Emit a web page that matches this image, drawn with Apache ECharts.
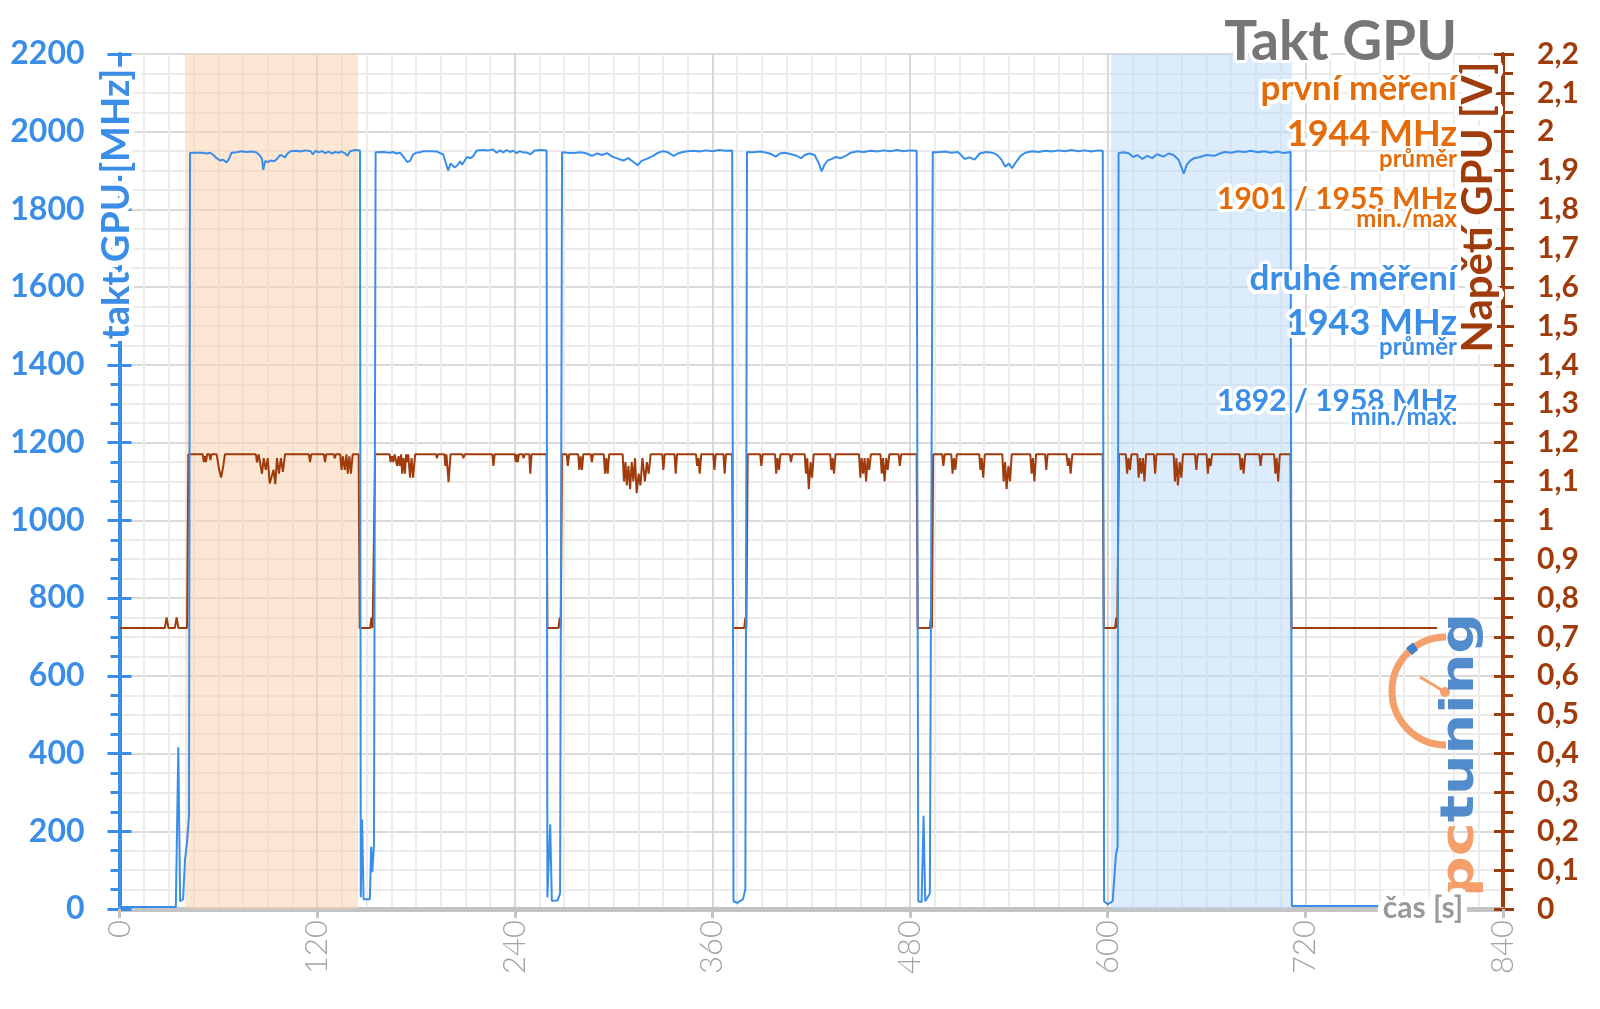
<!DOCTYPE html>
<html><head><meta charset="utf-8">
<script src="https://cdn.jsdelivr.net/npm/echarts/dist/echarts.min.js"></script>
<style>html,body{margin:0;padding:0;background:#fff}#c{width:1600px;height:1009px}</style>
</head><body><div id="c"></div>
<script>
// ---- data (time in seconds) ----
const bandsFirst = [39.8, 144.8];
const bandsSecond = [602, 712];

const clockStart = [[0,5],[34.2,5],[35.7,416],[36.8,20],[38.6,25],[39.8,128],[41,172],[42.2,240]];
const clockSeg1 = [[42.8,1945],[45,1946],[50,1946],[53,1944],[55,1946],[57,1940],[59,1932],[61,1926],[63,1928],[65,1921],[66.5,1930],[68,1946],[71,1947],[74,1950],[77,1948],[80,1949],[83,1947],[85,1940],[86.5,1930],[87.3,1902],[88.5,1925],[90,1922],[92,1926],[94,1924],[96,1932],[97.5,1940],[99,1938],[100.5,1934],[102,1944],[104,1950],[107,1951],[110,1949],[113,1952],[116,1950],[117.5,1942],[119,1951],[121,1947],[123,1950],[125,1945],[127,1949],[129,1944],[131,1948],[133,1946],[135,1949],[137,1944],[138.5,1938],[140,1950],[143,1953],[146,1952]];
const clockGap1 = [[146.5,30],[147.3,230],[148.2,25],[152,25],[152.8,160],[153.5,95],[154.5,165]];
const clockSeg2 = [[155.5,1947],[160,1948],[164,1946],[166,1948],[168,1944],[170.3,1946],[172.5,1935],[174.6,1922],[176.4,1925],[178,1940],[180,1946],[182.5,1947],[184.3,1950],[188,1950],[192.8,1949],[195,1944],[196.5,1942],[198.5,1915],[199.5,1900],[201,1918],[202,1920],[203.5,1908],[205,1913],[206.8,1924],[208,1915],[209,1918],[211,1935],[213,1932],[214.5,1936],[217,1952],[220.7,1953],[224,1952],[226.8,1954],[229,1946],[231,1952],[233,1947],[235,1953],[237,1948],[239,1951],[241,1945],[243,1950],[245,1947],[247.5,1946],[249.5,1942],[250.5,1939],[252.3,1952],[256,1953],[259.3,1952]];
const clockGap2 = [[259.8,30],[261.5,218],[262.5,21],[266,22],[267.5,40]];
const clockSeg3 = [[268.7,1947],[272,1946],[276,1945],[280,1947],[283.7,1944],[286.8,1938],[290,1944],[293,1940],[296,1945],[299.2,1936],[303,1930],[306,1926],[309,1932],[312,1922],[314.7,1914],[317,1925],[320,1930],[324,1938],[327,1946],[330.2,1950],[333,1947],[336.4,1938],[339,1944],[342,1948],[345,1950],[348.8,1951],[352,1949],[356,1952],[360,1950],[364,1953],[368,1951],[372,1952]];
const clockGap3 = [[372.8,20],[375,16],[378.5,25],[380,50]];
const clockSeg4 = [[381,1948],[385,1947],[389,1949],[393,1946],[396,1942],[398.4,1936],[401,1944],[404,1946],[408,1942],[411,1938],[413.9,1932],[416,1940],[419,1944],[422,1940],[424.5,1920],[426.3,1898],[428,1915],[430,1926],[432.5,1930],[435,1935],[438,1932],[441.7,1940],[444,1946],[447.9,1950],[452,1948],[456,1951],[460,1949],[464,1952],[468,1950],[472,1953],[476,1950],[480,1952],[484,1951]];
const clockGap4 = [[485,20],[487,18],[488.2,240],[489.2,20],[492,40]];
const clockSeg5 = [[493.8,1948],[497,1947],[501,1949],[505,1946],[509,1948],[511,1940],[513,1930],[516,1934],[519.2,1928],[522.3,1944],[526,1948],[530,1946],[533,1940],[535.5,1928],[537.8,1910],[540,1918],[542,1906],[544,1920],[547.1,1938],[550,1946],[554,1950],[558,1948],[562,1951],[566,1949],[570,1952],[574,1950],[578,1953],[582,1950],[586,1952],[590,1949],[594,1952],[597,1951]];
const clockGap5 = [[597.8,20],[600,12],[603,20],[605,140],[606,160]];
const clockSeg6 = [[606.6,1945],[610,1947],[613,1944],[615.3,1935],[618,1940],[621,1930],[624,1938],[627,1932],[630,1942],[633.8,1936],[637,1944],[640,1940],[643,1928],[646.2,1892],[648,1915],[650,1925],[652.4,1932],[656,1935],[660,1940],[664.8,1938],[668,1944],[671,1948],[675,1946],[679,1950],[683,1948],[687,1951],[691,1947],[695,1950],[699,1946],[703,1949],[707,1945],[711,1948]];
const clockTail = [[711.8,8],[800,8]];

const voltStart = [[0,0.723],[27.5,0.723],[28.6,0.75],[29.7,0.723],[33.6,0.723],[34.7,0.75],[35.8,0.723],[41,0.723]];
const voltSeg1 = [[41.8,1.17],[50.5,1.17],[51.2,1.15],[51.8,1.165],[52.5,1.15],[53.2,1.17],[54.6,1.17],[55.2,1.155],[55.8,1.17],[59,1.17],[60.5,1.13],[61.7,1.11],[63,1.14],[64,1.17],[82.8,1.17],[83.5,1.149],[84.5,1.17],[85.6,1.17],[86.5,1.12],[87.6,1.16],[88.8,1.13],[90,1.16],[91.2,1.095],[92.4,1.1],[93.5,1.13],[94.6,1.093],[95.6,1.16],[96.8,1.12],[98,1.16],[99.2,1.125],[100.5,1.17],[115,1.17],[115.7,1.15],[116.4,1.17],[124.1,1.17],[124.8,1.15],[125.5,1.17],[130,1.17],[130.7,1.16],[131.4,1.17],[134,1.17],[134.8,1.13],[135.6,1.165],[136.8,1.13],[137.8,1.17],[138.6,1.12],[139.6,1.165],[140.5,1.12],[141.6,1.17],[145.2,1.17]];
const voltGap1 = [[145.8,0.723],[152.2,0.723],[153,0.75],[153.7,0.723],[154.5,0.723]];
const voltSeg2 = [[155.2,1.17],[164,1.17],[164.6,1.15],[165.4,1.165],[166.2,1.15],[167,1.17],[168,1.17],[168.6,1.14],[169.4,1.165],[170.2,1.14],[171,1.17],[171.6,1.12],[172.4,1.16],[173.3,1.12],[174,1.17],[174.6,1.15],[175.3,1.17],[176.4,1.11],[177.3,1.16],[178.3,1.11],[179.5,1.17],[192.2,1.17],[192.7,1.16],[193.4,1.17],[194.3,1.165],[195,1.17],[197.3,1.17],[197.8,1.14],[198.5,1.17],[199.2,1.17],[199.8,1.098],[201,1.17],[208,1.17],[208.8,1.16],[209.6,1.17],[222.2,1.17],[222.8,1.165],[223.6,1.17],[226.4,1.17],[227,1.14],[227.8,1.17],[240,1.17],[240.6,1.15],[241.3,1.17],[241.8,1.15],[242.5,1.17],[244.8,1.17],[245.3,1.16],[246,1.17],[248.8,1.17],[249.4,1.12],[250.2,1.17],[259.3,1.17]];
const voltGap2 = [[259.8,0.723],[266.5,0.723],[267.3,0.75],[267.9,0.723],[268.3,0.723]];
const voltSeg3 = [[268.7,1.17],[271.5,1.17],[272.2,1.14],[273,1.17],[278.5,1.17],[279.2,1.13],[280,1.165],[280.8,1.13],[281.6,1.17],[286.2,1.17],[286.8,1.15],[287.5,1.17],[294,1.17],[294.8,1.12],[295.6,1.16],[296.4,1.12],[297.3,1.17],[305.5,1.17],[306.3,1.1],[307.2,1.15],[308,1.09],[309,1.14],[310,1.08],[311,1.15],[312,1.1],[313,1.16],[314,1.07],[315.2,1.12],[316.3,1.09],[317.5,1.16],[319,1.1],[320.2,1.15],[321.3,1.12],[322.5,1.17],[329.5,1.17],[330.2,1.13],[331,1.17],[337,1.17],[337.7,1.12],[338.5,1.17],[350,1.17],[350.7,1.14],[351.5,1.16],[352.3,1.12],[353.2,1.17],[360.5,1.17],[361.2,1.13],[362,1.17],[366.7,1.17],[367.4,1.12],[368.2,1.17],[372,1.17]];
const voltGap3 = [[372.6,0.723],[379.3,0.723],[380,0.75],[380.6,0.723],[381,0.723]];
const voltSeg4 = [[381.4,1.17],[389,1.17],[389.7,1.14],[390.5,1.17],[398,1.17],[398.7,1.12],[399.5,1.16],[400.4,1.13],[401.3,1.17],[407,1.17],[407.7,1.15],[408.5,1.17],[416,1.17],[416.8,1.12],[417.6,1.16],[418.5,1.08],[419.6,1.15],[420.5,1.11],[421.5,1.17],[431.5,1.17],[432.2,1.13],[433,1.16],[433.8,1.12],[434.7,1.17],[449,1.17],[449.8,1.11],[450.6,1.16],[451.5,1.12],[452.4,1.16],[453.3,1.1],[454.3,1.16],[455.2,1.13],[456.2,1.17],[462,1.17],[462.8,1.12],[463.6,1.16],[464.5,1.1],[465.5,1.16],[466.4,1.13],[467.4,1.17],[473,1.17],[473.8,1.14],[474.6,1.17],[484,1.17]];
const voltGap4 = [[484.6,0.723],[492,0.723],[492.7,0.75],[493.3,0.723],[493.6,0.723]];
const voltSeg5 = [[494,1.17],[499.5,1.17],[500.2,1.14],[501,1.17],[505,1.17],[505.8,1.12],[506.6,1.16],[507.5,1.13],[508.4,1.17],[522,1.17],[522.7,1.13],[523.5,1.16],[524.4,1.11],[525.4,1.17],[536,1.17],[536.8,1.1],[537.7,1.15],[538.6,1.08],[539.7,1.14],[540.7,1.1],[541.7,1.17],[553,1.17],[553.8,1.12],[554.6,1.16],[555.5,1.1],[556.5,1.17],[562,1.17],[562.7,1.13],[563.5,1.17],[575,1.17],[575.8,1.14],[576.6,1.16],[577.5,1.12],[578.5,1.17],[597,1.17]];
const voltGap5 = [[597.6,0.723],[604.5,0.723],[605.2,0.75],[605.8,0.723],[606.2,0.723]];
const voltSeg6 = [[606.8,1.17],[611,1.17],[611.8,1.12],[612.6,1.16],[613.5,1.13],[614.4,1.17],[618,1.17],[618.8,1.11],[619.6,1.16],[620.5,1.12],[621.4,1.16],[622.3,1.1],[623.3,1.17],[628,1.17],[628.8,1.12],[629.6,1.17],[640,1.17],[640.8,1.1],[641.7,1.16],[642.6,1.09],[643.7,1.15],[644.7,1.11],[645.7,1.17],[653,1.17],[653.8,1.13],[654.6,1.17],[660,1.17],[660.8,1.12],[661.6,1.16],[662.5,1.14],[663.4,1.17],[680,1.17],[680.8,1.13],[681.6,1.16],[682.5,1.12],[683.5,1.17],[692,1.17],[692.8,1.14],[693.6,1.17],[701,1.17],[701.8,1.12],[702.6,1.16],[703.5,1.1],[704.5,1.17],[711,1.17]];
const voltTail = [[711.6,0.723],[800,0.723]];

const clockData = [].concat(clockStart, clockSeg1, clockGap1, clockSeg2, clockGap2, clockSeg3, clockGap3, clockSeg4, clockGap4, clockSeg5, clockGap5, clockSeg6, clockTail);
const voltData = [].concat(voltStart, voltSeg1, voltGap1, voltSeg2, voltGap2, voltSeg3, voltGap3, voltSeg4, voltGap4, voltSeg5, voltGap5, voltSeg6, voltTail);

// ---- styling ----
const BLUE = '#3a8ee8';
const BROWN = '#a03c0c';
const ORANGE = '#e46c0a';
const GRAY = '#767676';
const FONT = 'Lato';

const chart = echarts.init(document.getElementById('c'), null, {renderer: 'canvas'});

// text with a soft white halo (white copies offset around the glyphs)
function glowText(text, x, y, font, color, opts) {
  opts = opts || {};
  const r = opts.r || 3.5;
  const z = opts.z || 100;
  const base = {align: opts.align || 'right', verticalAlign: 'middle', text: text, font: font};
  const els = [];
  const n = 16;
  for (let i = 0; i < n; i++) {
    const a = 2 * Math.PI * i / n;
    els.push({type: 'text', silent: true, x: x + r * Math.cos(a), y: y + r * Math.sin(a), z: z, zlevel: 0,
      rotation: opts.rotation || 0,
      style: Object.assign({fill: '#ffffff'}, base)});
  }
  els.push({type: 'text', silent: true, x: x, y: y, z: z + 1, rotation: opts.rotation || 0,
    style: Object.assign({fill: color}, base)});
  return els;
}
const B = s => 'bold ' + s + 'px ' + FONT;

const graphics = [].concat(
  glowText('Takt GPU', 1457, 42, B(55), GRAY),
  glowText('první měření', 1457, 89, B(35), ORANGE, {z: 102}),
  glowText('1944 MHz', 1457, 134, B(36), ORANGE, {z: 104}),
  glowText('průměr', 1457, 159.5, B(24), ORANGE, {z: 106, r: 2.5}),
  glowText('1901 / 1955 MHz', 1457, 199, B(30), ORANGE, {z: 108}),
  glowText('min./max', 1457, 219, B(24), ORANGE, {z: 110, r: 2.5}),
  glowText('druhé měření', 1457, 279, B(35), BLUE, {z: 102}),
  glowText('1943 MHz', 1457, 323, B(36), BLUE, {z: 104}),
  glowText('průměr', 1457, 347.5, B(24), BLUE, {z: 106, r: 2.5}),
  glowText('1892 / 1958 MHz', 1457, 401.5, B(30), BLUE, {z: 108}),
  glowText('min./max.', 1457, 417, B(24), BLUE, {z: 110, r: 2.5}),
  glowText('takt GPU [MHz]', 117, 204, B(38), BLUE, {align: 'center', rotation: Math.PI / 2, r: 5}),
  glowText('Napětí GPU [V]', 1478, 207, B(42), BROWN, {align: 'center', rotation: Math.PI / 2, r: 5}),
  glowText('čas [s]', 1423, 908, B(30), '#9a9a9a', {align: 'center', r: 6}),
  [
    // pctuning logo
    {type: 'arc', z: 90, shape: {cx: 1446, cy: 691, r: 54, startAngle: Math.PI / 2, endAngle: Math.PI * 1.5, clockwise: true},
      style: {stroke: '#f4a06c', lineWidth: 7, fill: null}},
    {type: 'arc', z: 91, shape: {cx: 1446, cy: 691, r: 54, startAngle: Math.PI * 1.26, endAngle: Math.PI * 1.31, clockwise: true},
      style: {stroke: '#3f80c8', lineWidth: 9, fill: null}},
    {type: 'line', z: 91, shape: {x1: 1420, y1: 677, x2: 1445, y2: 692}, style: {stroke: '#f4a06c', lineWidth: 3}},
    {type: 'circle', z: 91, shape: {cx: 1445, cy: 692, r: 5}, style: {fill: '#f4a06c'}},
    {type: 'text', z: 92, x: 1461, y: 897, rotation: Math.PI / 2, scaleX: 1.24,
      style: {text: '{a|pc}{b|tuning}', align: 'left', verticalAlign: 'middle', opacity: 0.9,
        rich: {a: {font: 'bold 46px "DejaVu Sans"', fill: '#f4955c'}, b: {font: 'bold 46px "DejaVu Sans"', fill: '#3f80c8'}}}}
  ]
);

const option = {
  animation: false,
  backgroundColor: '#ffffff',
  grid: {left: 119.5, right: 97, top: 54, bottom: 100, containLabel: false},
  xAxis: {
    type: 'value', min: 0, max: 840, interval: 120,
    axisLine: {show: true, lineStyle: {color: '#c4c4c4', width: 5}},
    axisTick: {show: true, length: 9, lineStyle: {color: '#c4c4c4', width: 3}},
    axisLabel: {rotate: 90, margin: 11, fontFamily: FONT, fontWeight: 300, fontSize: 31, color: '#a3a3a3'},
    splitLine: {show: true, lineStyle: {color: '#d8d8d8', width: 2}},
    minorTick: {show: false, splitNumber: 8},
    minorSplitLine: {show: true, lineStyle: {color: '#ececec', width: 2}}
  },
  yAxis: [
    {
      type: 'value', min: 0, max: 2200, interval: 200, position: 'left',
      axisLine: {show: true, lineStyle: {color: BLUE, width: 4}},
      axisTick: {show: true, length: 12, lineStyle: {color: BLUE, width: 3}},
      minorTick: {show: true, splitNumber: 4, length: 9, lineStyle: {color: BLUE, width: 3}},
      axisLabel: {margin: 35, fontFamily: FONT, fontWeight: 'bold', fontSize: 32, color: BLUE, formatter: v => String(v)},
      splitLine: {show: true, lineStyle: {color: '#dadada', width: 2}},
      minorSplitLine: {show: true, lineStyle: {color: '#ebebeb', width: 2}}
    },
    {
      type: 'value', min: 0, max: 2.2, interval: 0.1, position: 'right',
      axisLine: {show: true, lineStyle: {color: BROWN, width: 4}},
      axisTick: {show: true, length: 11, lineStyle: {color: BROWN, width: 3}},
      minorTick: {show: true, splitNumber: 2, length: 10, lineStyle: {color: BROWN, width: 3}},
      axisLabel: {margin: 34, fontFamily: FONT, fontWeight: 'bold', fontSize: 30, color: BROWN,
        formatter: v => String(Number(v.toFixed(1))).replace('.', ',')},
      splitLine: {show: false}
    },
    {
      type: 'value', min: 0, max: 2200, interval: 200, position: 'left',
      axisLine: {show: false}, axisLabel: {show: false}, splitLine: {show: false},
      axisTick: {show: true, inside: true, length: 12, lineStyle: {color: BLUE, width: 3}}
    },
    {
      type: 'value', min: 0, max: 2.2, interval: 0.1, position: 'right',
      axisLine: {show: false}, axisLabel: {show: false}, splitLine: {show: false},
      axisTick: {show: true, inside: true, length: 9, lineStyle: {color: BROWN, width: 3}}
    }
  ],
  series: [
    {
      name: 'napětí', type: 'line', yAxisIndex: 1, data: voltData, showSymbol: false,
      lineStyle: {color: BROWN, width: 2}, z: 3,
      markArea: {
        silent: true,
        data: [
          [{xAxis: bandsFirst[0], itemStyle: {color: 'rgba(248,207,168,0.5)'}}, {xAxis: bandsFirst[1]}],
          [{xAxis: bandsSecond[0], itemStyle: {color: 'rgba(187,217,249,0.5)'}}, {xAxis: bandsSecond[1]}]
        ]
      }
    },
    {
      name: 'takt', type: 'line', yAxisIndex: 0, data: clockData, showSymbol: false,
      lineStyle: {color: BLUE, width: 2}, z: 4
    }
  ],
  graphic: graphics
};
chart.setOption(option);
</script></body></html>
